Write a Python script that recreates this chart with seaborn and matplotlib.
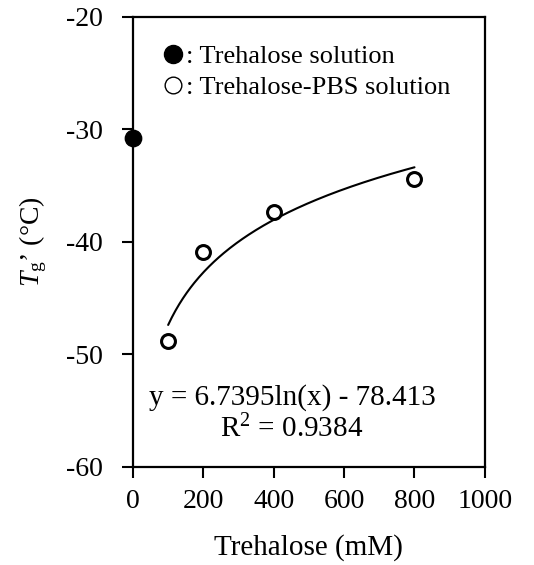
import numpy as np
import pandas as pd
import matplotlib
matplotlib.use("Agg")
import matplotlib.pyplot as plt
import seaborn as sns
from matplotlib.lines import Line2D

# Data
tre_x = [0]
tre_y = [-30.8]
pbs_x = [100, 200, 400, 800]
pbs_y = [-48.8, -40.9, -37.3, -34.4]
fit_a = 6.7395
fit_b = -78.413
fit_r2 = 0.9384
x_ticks = [0, 200, 400, 600, 800, 1000]
y_ticks = [-60, -50, -40, -30, -20]

sns.set_theme(style="white")
plt.rcParams['font.family'] = ['Liberation Serif', 'DejaVu Serif']
plt.rcParams['mathtext.fontset'] = 'custom'
plt.rcParams['mathtext.rm'] = 'Liberation Serif'
plt.rcParams['mathtext.it'] = 'Liberation Serif:italic'
plt.rcParams['axes.unicode_minus'] = False
plt.rcParams['text.color'] = 'black'
plt.rcParams['axes.labelcolor'] = 'black'

FS = 20

fig = plt.figure(figsize=(5.34, 5.65), dpi=100)
ax = fig.add_axes([0.249, 0.1735, 0.659, 0.7965])

fit_x = np.linspace(min(pbs_x), max(pbs_x), 200)
fit_df = pd.DataFrame({"x": fit_x, "y": fit_a * np.log(fit_x) + fit_b})
sns.lineplot(data=fit_df, x="x", y="y", ax=ax, color="black", linewidth=1.5)

pbs_df = pd.DataFrame({"x": pbs_x, "y": pbs_y})
sns.scatterplot(data=pbs_df, x="x", y="y", ax=ax, s=100, facecolor="white",
                edgecolor="black", linewidth=2.2, zorder=4, clip_on=False)
tre_df = pd.DataFrame({"x": tre_x, "y": tre_y})
sns.scatterplot(data=tre_df, x="x", y="y", ax=ax, s=140, color="black",
                edgecolor="black", zorder=5, clip_on=False)

ax.set_xlim(0, 1000)
ax.set_ylim(-60, -20)
ax.set_xticks(x_ticks)
ax.set_yticks(y_ticks)
ax.tick_params(axis="both", direction="out", length=8, width=1.5,
               labelsize=FS, colors="black", left=True, bottom=True)
ax.tick_params(axis="y", pad=14)
ax.tick_params(axis="x", pad=8)
for sp in ax.spines.values():
    sp.set_linewidth(1.6)
    sp.set_color("black")

ax.set_xlabel("Trehalose (mM)", fontsize=21, labelpad=14)
ax.set_ylabel(r"$T_\mathrm{g}$’ (°C)", fontsize=FS, labelpad=12)

handles = [
    Line2D([], [], marker="o", linestyle="none", markersize=13,
           markerfacecolor="black", markeredgecolor="black"),
    Line2D([], [], marker="o", linestyle="none", markersize=12,
           markerfacecolor="white", markeredgecolor="black", markeredgewidth=1.0),
]
ax.legend(handles, [": Trehalose solution", ": Trehalose-PBS solution"],
          loc="upper left", bbox_to_anchor=(0.045, 0.962), frameon=False,
          fontsize=19, handletextpad=0.0, handlelength=1.0,
          borderaxespad=0, labelspacing=0.3)

ax.text(452, -53.8, f"y = {fit_a}ln(x) - {abs(fit_b)}", ha="center", va="center",
        fontsize=21)
ax.text(452, -56.6, f"R$^2$ = {fit_r2}", ha="center", va="center", fontsize=21)

fig.savefig("out.png", dpi=100)
